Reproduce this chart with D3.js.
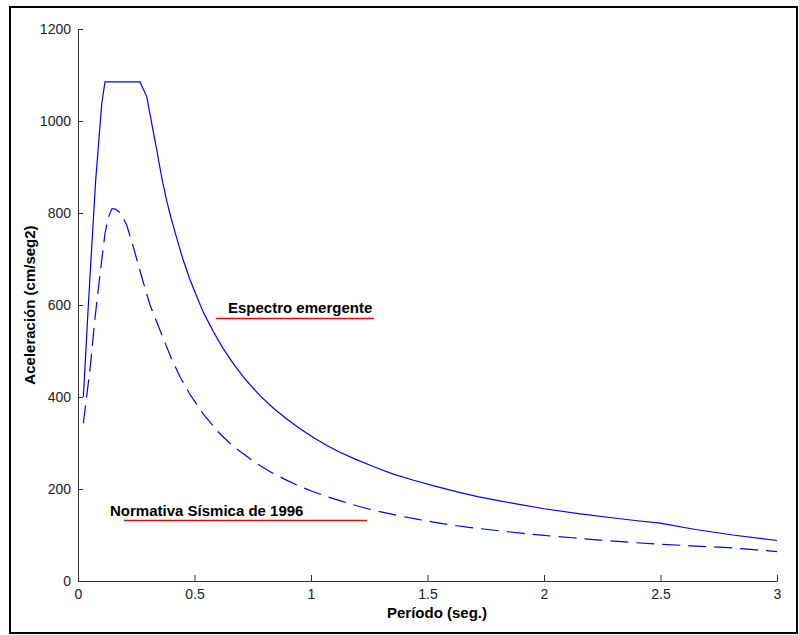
<!DOCTYPE html>
<html>
<head>
<meta charset="utf-8">
<script src="https://cdn.jsdelivr.net/npm/d3@7"></script>
<style>
  body { margin: 0; background: #fff; }
  svg { display: block; }
</style>
</head>
<body>
<svg id="chart" width="799" height="635"></svg>
<script>
// ---- Data ----
const emergentePeriod = [0.023, 0.044, 0.059, 0.076, 0.102, 0.116, 0.266, 0.295, 0.32, 0.338, 0.36, 0.38, 0.40, 0.424, 0.45, 0.48, 0.51, 0.538, 0.58, 0.62, 0.667, 0.72, 0.781, 0.84, 0.896, 0.95, 1.01, 1.07, 1.124, 1.19, 1.267, 1.35, 1.44, 1.54, 1.64, 1.72, 1.81, 1.9, 2.0, 2.155, 2.3, 2.4, 2.498, 2.65, 2.81, 3.0];
const emergenteValue  = [400, 596, 727, 872, 1038, 1085, 1085, 1053, 985, 937, 875, 828, 788, 745, 700, 656, 618, 584, 543, 508, 472, 437, 403, 375, 352, 332, 312, 294, 280, 265, 249, 233, 219, 205, 192, 183, 174, 166, 157, 146, 137, 131, 126, 112, 100, 88];

const normativaPeriod = [0.023, 0.0515, 0.073, 0.094, 0.116, 0.13, 0.145, 0.159, 0.173, 0.187, 0.209, 0.237, 0.273, 0.309, 0.352, 0.402, 0.438, 0.48, 0.538, 0.6, 0.65, 0.695, 0.74, 0.781, 0.83, 0.888, 0.95, 1.01, 1.07, 1.14, 1.2, 1.267, 1.33, 1.396, 1.46, 1.525, 1.6, 1.67, 1.74, 1.81, 1.9, 2.0, 2.12, 2.24, 2.37, 2.5, 2.65, 2.81, 2.9, 3.0];
const normativaValue  = [343, 460, 572, 664, 756, 790, 809, 809, 804, 796, 774, 727, 662, 600, 545, 482, 444, 406, 363, 325, 300, 282, 265, 251, 236, 221, 206, 194, 183, 172, 163, 154, 147, 140, 134, 128, 122, 117, 113, 109, 104, 99, 94, 89, 84, 80, 76, 72, 68, 64];

const xTicks = [0, 0.5, 1, 1.5, 2, 2.5, 3];
const xTickLabels = ["0", "0.5", "1", "1.5", "2", "2.5", "3"];
const yTicks = [0, 200, 400, 600, 800, 1000, 1200];
const yTickLabels = ["0", "200", "400", "600", "800", "1000", "1200"];

const xTitle = "Período (seg.)";
const yTitle = "Aceleración (cm/seg2)";
const labelEmergente = "Espectro emergente";
const labelNormativa = "Normativa Sísmica de 1996";

// ---- Chart ----
const FONT = "'Liberation Sans', Arial, Helvetica, sans-serif";
const svg = d3.select("#chart");

// outer frame
svg.append("rect")
  .attr("x", 10).attr("y", 7).attr("width", 787).attr("height", 626)
  .attr("fill", "none").attr("stroke", "#000").attr("stroke-width", 2);

const x = d3.scaleLinear().domain([0, 3]).range([78, 777]);
const y = d3.scaleLinear().domain([0, 1200]).range([581, 29]);

const xAxis = d3.axisBottom(x)
  .tickValues(xTicks)
  .tickFormat((d, i) => xTickLabels[i])
  .tickSizeInner(-6).tickSizeOuter(0).tickPadding(8);
const yAxis = d3.axisLeft(y)
  .tickValues(yTicks)
  .tickFormat((d, i) => yTickLabels[i])
  .tickSizeInner(-5).tickSizeOuter(0).tickPadding(7);

const gx = svg.append("g").attr("transform", "translate(0,581)").call(xAxis);
const gy = svg.append("g").attr("transform", "translate(78,0)").call(yAxis);

[gx, gy].forEach(g => {
  g.selectAll("path.domain").attr("stroke", "#333").attr("stroke-width", 1);
  g.selectAll(".tick line").attr("stroke", "#333").attr("stroke-width", 1);
  g.selectAll(".tick text")
    .attr("fill", "#222")
    .style("font-family", FONT)
    .style("font-size", "14px");
});

// curves
const line = d3.line()
  .x(d => x(d[0]))
  .y(d => y(d[1]));

const emergente = emergentePeriod.map((t, i) => [t, emergenteValue[i]]);
const normativa = normativaPeriod.map((t, i) => [t, normativaValue[i]]);

svg.append("path")
  .datum(emergente)
  .attr("d", line)
  .attr("fill", "none")
  .attr("stroke", "#0000ff")
  .attr("stroke-width", 1.2);

svg.append("path")
  .datum(normativa)
  .attr("d", line)
  .attr("fill", "none")
  .attr("stroke", "#0000ff")
  .attr("stroke-width", 1.2)
  .attr("stroke-dasharray", "18,8");

// axis titles
svg.append("text")
  .attr("x", 437).attr("y", 618)
  .attr("text-anchor", "middle")
  .style("font-family", FONT).style("font-size", "15px").style("font-weight", "bold")
  .attr("fill", "#000")
  .text(xTitle);

svg.append("text")
  .attr("transform", "translate(35,305) rotate(-90)")
  .attr("text-anchor", "middle")
  .style("font-family", FONT).style("font-size", "15px").style("font-weight", "bold")
  .attr("fill", "#000")
  .text(yTitle);

// annotations with red underline
svg.append("text")
  .attr("x", 228).attr("y", 313)
  .style("font-family", FONT).style("font-size", "15px").style("font-weight", "bold")
  .attr("fill", "#000")
  .text(labelEmergente);
svg.append("line")
  .attr("x1", 216).attr("x2", 374).attr("y1", 318.5).attr("y2", 318.5)
  .attr("stroke", "#ff0000").attr("stroke-width", 1.3);

svg.append("text")
  .attr("x", 110).attr("y", 516)
  .style("font-family", FONT).style("font-size", "15px").style("font-weight", "bold")
  .attr("fill", "#000")
  .text(labelNormativa);
svg.append("line")
  .attr("x1", 124).attr("x2", 367).attr("y1", 520.5).attr("y2", 520.5)
  .attr("stroke", "#ff0000").attr("stroke-width", 1.3);
</script>
</body>
</html>
